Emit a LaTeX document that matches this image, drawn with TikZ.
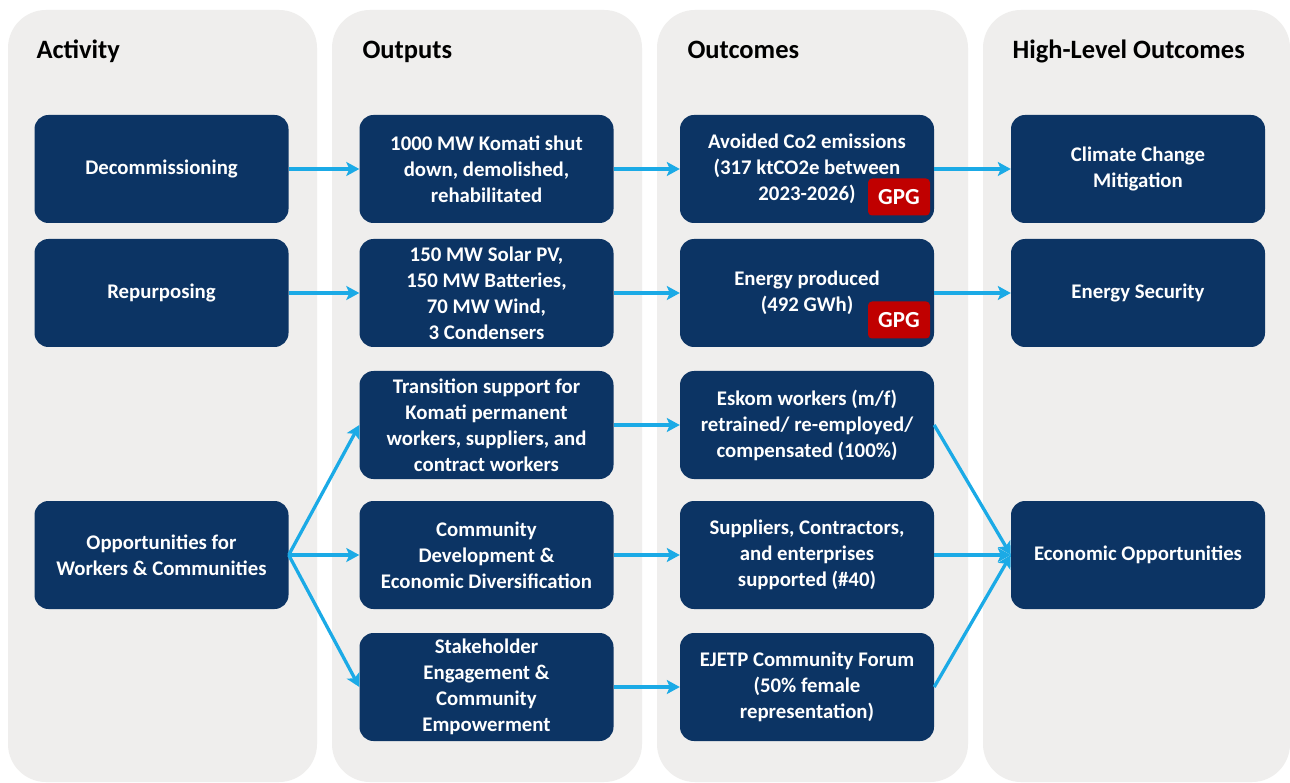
\documentclass[tikz,border=0pt]{standalone}
\usepackage{fontspec}
\setmainfont{Carlito}
\usetikzlibrary{arrows.meta}
\definecolor{panel}{RGB}{239,238,237}
\definecolor{navy}{RGB}{12,52,100}
\definecolor{arr}{RGB}{27,170,230}
\definecolor{gpg}{RGB}{192,0,0}
\begin{document}
\begin{tikzpicture}[x=1pt,y=-1pt,
 panelbox/.style={fill=panel, rounded corners=38pt},
 box/.style={fill=navy, rounded corners=14pt, minimum width=254pt, minimum height=108pt, text=white, font=\bfseries\fontsize{20.8}{26}\selectfont, align=center, inner sep=0pt},
 badge/.style={fill=gpg, rounded corners=4pt, text=white, font=\bfseries\fontsize{23}{24}\selectfont, minimum width=62pt, minimum height=37pt, inner sep=0pt},
 head/.style={anchor=base west, font=\bfseries\fontsize{26.5}{30}\selectfont, text=black},
 conn/.style={draw=arr, line width=3.3pt, -{Stealth[length=13pt,width=14pt,inset=3pt]}}]
\fill[white] (0,0) rectangle (1290,783);
\useasboundingbox (0,0) rectangle (1290,783);
% panels
\fill[panelbox] (8,10) rectangle (317,782);
\fill[panelbox] (332,10) rectangle (642,782);
\fill[panelbox] (657,10) rectangle (968,782);
\fill[panelbox] (983,10) rectangle (1290,782);
% headers
\node[head] (h1) at (33,59) {Activity};
\node[head] (h2) at (359,59) {Outputs};
\node[head] (h3) at (684,59) {Outcomes};
\node[head] (h4) at (1009,59) {High-Level Outcomes};
% column 1
\node[box] (dec) at (161.5,169) {Decommissioning};
\node[box] (rep) at (161.5,293) {Repurposing};
\node[box] (opp) at (161.5,555) {Opportunities for\\Workers \& Communities};
% column 2
\node[box] (o1) at (486.5,169) {1000 MW Komati shut\\down, demolished,\\rehabilitated};
\node[box] (o2) at (486.5,293) {150 MW Solar PV,\\150 MW Batteries,\\70 MW Wind,\\3 Condensers};
\node[box] (o3) at (486.5,425) {Transition support for\\Komati permanent\\workers, suppliers, and\\contract workers};
\node[box] (o4) at (486.5,555) {Community\\Development \&\\Economic Diversification};
\node[box] (o5) at (486.5,687) {Stakeholder\\Engagement \&\\Community\\Empowerment};
% column 3
\node[box] (c1) at (807,169) {Avoided Co2 emissions\\(317 ktCO2e between\\2023-2026)\hspace*{0pt}};
\node[box] (c2) at (807,293) {Energy produced\\(492 GWh)};
\node[box] (c3) at (807,425) {Eskom workers (m/f)\\retrained/ re-employed/\\compensated (100\%)};
\node[box] (c4) at (807,555) {Suppliers, Contractors,\\and enterprises\\supported (\#40)};
\node[box] (c5) at (807,687) {EJETP Community Forum\\(50\% female\\representation)};
\node[badge] (g1) at (899,197) {GPG};
\node[badge] (g2) at (899,320) {GPG};
% column 4
\node[box] (hl1) at (1138,169) {Climate Change\\Mitigation};
\node[box] (hl2) at (1138,293) {Energy Security};
\node[box] (hl3) at (1138,555) {Economic Opportunities};
% connectors
\draw[conn] (dec.east) -- (o1.west);
\draw[conn] (o1.east) -- (c1.west);
\draw[conn] (c1.east) -- (hl1.west);
\draw[conn] (rep.east) -- (o2.west);
\draw[conn] (o2.east) -- (c2.west);
\draw[conn] (c2.east) -- (hl2.west);
\draw[conn] (opp.east) -- (o3.west);
\draw[conn] (opp.east) -- (o4.west);
\draw[conn] (opp.east) -- (o5.west);
\draw[conn] (o3.east) -- (c3.west);
\draw[conn] (o4.east) -- (c4.west);
\draw[conn] (o5.east) -- (c5.west);
\draw[conn] (c3.east) -- (hl3.west);
\draw[conn] (c4.east) -- (hl3.west);
\draw[conn] (c5.east) -- (hl3.west);
\end{tikzpicture}
\end{document}
